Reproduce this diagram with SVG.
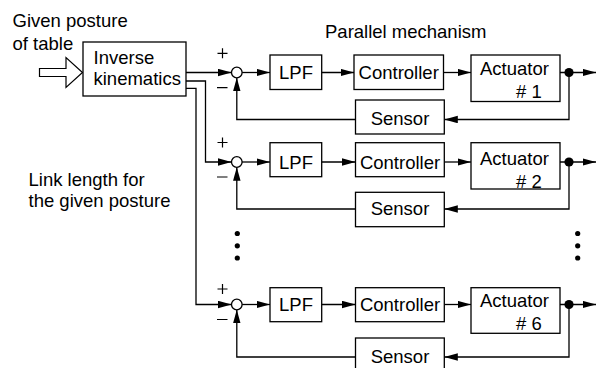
<svg xmlns="http://www.w3.org/2000/svg" width="596" height="368" viewBox="0 0 596 368">
  <defs>
    <style>
      text { font-family: "Liberation Sans", Arial, Helvetica, sans-serif; font-size: 18.5px; fill: #000; }
      .box { fill: #fff; stroke: #000; stroke-width: 1.3; }
      .wire { fill: none; stroke: #000; stroke-width: 1.3; }
      .sum { fill: #fff; stroke: #000; stroke-width: 1.3; }
      .mid { text-anchor: middle; }
      .sign { stroke: #000; stroke-width: 1.2; fill: none; }
    </style>
    <marker id="arrow" markerUnits="userSpaceOnUse" markerWidth="14" markerHeight="8" refX="13.5" refY="3.75" orient="auto">
      <path d="M0,0 L13.5,3.75 L0,7.5 z" fill="#000"/>
    </marker>
  </defs>

  <rect width="596" height="368" fill="#fff"/>

  <!-- free labels -->
  <text x="12.5" y="26.5">Given posture</text>
  <text x="12.5" y="49.5">of table</text>
  <text x="325" y="37.5">Parallel mechanism</text>
  <text x="28.5" y="185.5">Link length for</text>
  <text x="28.5" y="206.5">the given posture</text>

  <!-- hollow input arrow -->
  <path d="M39.5,68.5 L66,68.5 L66,57.5 L82.5,72.5 L66,87.5 L66,76.5 L39.5,76.5 z" fill="#fff" stroke="#000" stroke-width="1.2"/>

  <!-- connectors -->
  <g id="connectors">
    <!-- row 1 -->
    <path class="wire" d="M186,72.5 H231.5" marker-end="url(#arrow)"/>
    <path class="wire" d="M242,72.5 H270" marker-end="url(#arrow)"/>
    <path class="wire" d="M321.7,72.5 H354" marker-end="url(#arrow)"/>
    <path class="wire" d="M443.5,72.5 H471" marker-end="url(#arrow)"/>
    <path class="wire" d="M560,72.5 H596" marker-end="url(#arrow)"/>
    <path class="wire" d="M569,72.5 V119.5 H444.3" marker-end="url(#arrow)"/>
    <path class="wire" d="M355.5,119.5 H236.8 V77.8" marker-end="url(#arrow)"/>

    <!-- row 2 -->
    <path class="wire" d="M186,81 H205.5 V162 H231.5" marker-end="url(#arrow)"/>
    <path class="wire" d="M242,162 H270" marker-end="url(#arrow)"/>
    <path class="wire" d="M321.7,162 H355.5" marker-end="url(#arrow)"/>
    <path class="wire" d="M444.3,162 H471" marker-end="url(#arrow)"/>
    <path class="wire" d="M560,162 H596" marker-end="url(#arrow)"/>
    <path class="wire" d="M569,162 V209 H444.3" marker-end="url(#arrow)"/>
    <path class="wire" d="M355.5,209 H236.8 V167.3" marker-end="url(#arrow)"/>

    <!-- row 6 -->
    <path class="wire" d="M186,88.3 H196 V304.5 H231.5" marker-end="url(#arrow)"/>
    <path class="wire" d="M242,304.5 H270" marker-end="url(#arrow)"/>
    <path class="wire" d="M321.7,304.5 H355.5" marker-end="url(#arrow)"/>
    <path class="wire" d="M444.3,304.5 H471" marker-end="url(#arrow)"/>
    <path class="wire" d="M560,304.5 H596" marker-end="url(#arrow)"/>
    <path class="wire" d="M569,304.5 V357 H444.3" marker-end="url(#arrow)"/>
    <path class="wire" d="M355.5,357 H236.8 V309.8" marker-end="url(#arrow)"/>

    <!-- branch points -->
    <circle cx="569" cy="72.5" r="4.6" fill="#000"/>
    <circle cx="569" cy="162" r="4.6" fill="#000"/>
    <circle cx="569" cy="304.5" r="4.6" fill="#000"/>
  </g>

  <g id="inverse-kinematics">
    <rect class="box" x="83" y="42" width="103" height="54"/>
    <text x="93.5" y="63.5">Inverse</text>
    <text x="93.5" y="85">kinematics</text>
  </g>

  <!-- loop 1 -->
  <g id="sum-1">
    <circle class="sum" cx="236.8" cy="72.5" r="5.3"/>
    <path class="sign" d="M217.5,53.3 H227.5 M222.5,48.3 V58.3 M217,87.7 H227.5"/>
  </g>
  <g id="lpf-1">
    <rect class="box" x="270" y="55" width="51.7" height="34.5"/>
    <text class="mid" x="296" y="79">LPF</text>
  </g>
  <g id="controller-1">
    <rect class="box" x="354" y="55" width="89.5" height="34.5"/>
    <text class="mid" x="398.7" y="79">Controller</text>
  </g>
  <g id="actuator-1">
    <rect class="box" x="471" y="55" width="89" height="46.5"/>
    <text x="480" y="75">Actuator</text>
    <text x="516" y="98.3"># 1</text>
  </g>
  <g id="sensor-1">
    <rect class="box" x="355.5" y="100" width="88.8" height="34"/>
    <text class="mid" x="400" y="125">Sensor</text>
  </g>

  <!-- loop 2 -->
  <g id="sum-2">
    <circle class="sum" cx="236.8" cy="162" r="5.3"/>
    <path class="sign" d="M217.5,142.5 H227.5 M222.5,137.5 V147.5 M217,177 H227.5"/>
  </g>
  <g id="lpf-2">
    <rect class="box" x="270" y="142.7" width="51.7" height="34"/>
    <text class="mid" x="296" y="168.5">LPF</text>
  </g>
  <g id="controller-2">
    <rect class="box" x="355.5" y="142.7" width="88.8" height="34"/>
    <text class="mid" x="400" y="168.5">Controller</text>
  </g>
  <g id="actuator-2">
    <rect class="box" x="471" y="142.7" width="89" height="46.3"/>
    <text x="480" y="164.5">Actuator</text>
    <text x="516" y="187.7"># 2</text>
  </g>
  <g id="sensor-2">
    <rect class="box" x="355.5" y="192.3" width="88.8" height="34.4"/>
    <text class="mid" x="400" y="215">Sensor</text>
  </g>

  <!-- loop 6 -->
  <g id="sum-6">
    <circle class="sum" cx="236.8" cy="304.5" r="5.3"/>
    <path class="sign" d="M217.5,289 H227.5 M222.5,284 V294 M217,319.5 H227.5"/>
  </g>
  <g id="lpf-6">
    <rect class="box" x="270" y="287.7" width="51.7" height="34"/>
    <text class="mid" x="296" y="311">LPF</text>
  </g>
  <g id="controller-6">
    <rect class="box" x="355.5" y="287.7" width="88.8" height="34"/>
    <text class="mid" x="400" y="311">Controller</text>
  </g>
  <g id="actuator-6">
    <rect class="box" x="471" y="287.7" width="89" height="45.6"/>
    <text x="480" y="307">Actuator</text>
    <text x="516" y="330"># 6</text>
  </g>
  <g id="sensor-6">
    <rect class="box" x="355.5" y="338" width="88.8" height="34"/>
    <text class="mid" x="400" y="362.5">Sensor</text>
  </g>

  <!-- ellipsis between loops -->
  <g id="ellipsis" fill="#000">
    <circle cx="237.3" cy="233.5" r="2.6"/>
    <circle cx="237.3" cy="245.8" r="2.6"/>
    <circle cx="237.3" cy="258" r="2.6"/>
    <circle cx="577.7" cy="233.5" r="2.6"/>
    <circle cx="577.7" cy="245.8" r="2.6"/>
    <circle cx="577.7" cy="258" r="2.6"/>
  </g>
</svg>
